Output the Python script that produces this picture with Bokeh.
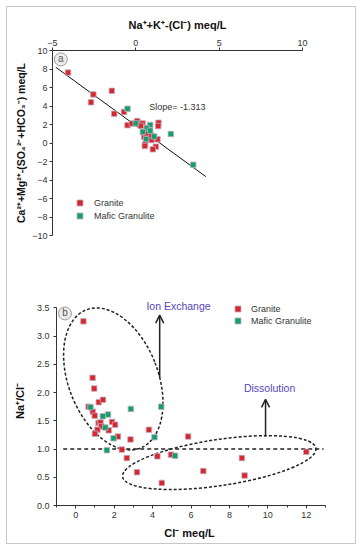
from bokeh.plotting import figure
from bokeh.layouts import column, row
from bokeh.models import (Range1d, FixedTicker, SingleIntervalTicker, PrintfTickFormatter,
                          Label, Arrow, OpenHead, Legend, LegendItem)
from bokeh.core.properties import value
from bokeh.embed import file_html
from bokeh.resources import INLINE

# ---------------- data: panel a ----------------
granite_a_x = [-4.07, -2.55, -2.69, -1.44, -1.30, -0.71, -0.50, -0.24, 0.08, 0.40, 0.30,
               0.66, 1.36, 1.34, 0.50, 0.94, 1.30, 0.56, 0.54, 1.20, 1.02, 0.90, 0.62]
granite_a_y = [7.61, 5.25, 4.40, 5.64, 3.15, 3.36, 1.93, 2.10, 2.37, 2.12, 1.87,
               1.65, 2.19, 1.83, 0.68, 0.32, 0.40, -0.11, -0.32, -0.40, -0.68, 0.85, 1.05]
mafic_a_x = [-0.50, 0.00, 0.86, 0.66, 0.86, 0.42, 1.10, 0.62, 2.10, 3.44]
mafic_a_y = [3.70, 2.12, 1.95, 1.58, 1.33, 1.20, 0.70, 0.42, 0.97, -2.36]
fit_x = [-4.8, 4.2]
fit_slope = -1.313
fit_intercept = 1.88
a_x_ticks = [-5, 0, 5, 10]
a_y_ticks = [-10, -8, -6, -4, -2, 0, 2, 4, 6, 8, 10]

# ---------------- data: panel b ----------------
granite_b_x = [0.40, 0.88, 0.96, 0.67, 1.20, 1.42, 0.89, 0.99, 1.19, 1.29, 1.33, 1.13, 1.00,
               1.72, 1.89, 2.05, 2.20, 2.85, 2.40, 2.66, 3.19, 3.81, 4.25, 4.48, 4.96,
               5.85, 6.64, 8.65, 8.79, 12.00]
granite_b_y = [3.26, 2.26, 2.07, 1.75, 1.83, 1.87, 1.66, 1.59, 1.46, 1.47, 1.40, 1.34, 1.27,
               1.33, 1.48, 1.43, 1.22, 1.17, 0.99, 0.84, 0.59, 1.34, 0.87, 0.40, 0.90,
               1.22, 0.61, 0.84, 0.53, 0.95]
mafic_b_x = [0.77, 1.68, 1.41, 1.54, 1.97, 2.87, 4.45, 4.10, 1.62, 5.17]
mafic_b_y = [1.74, 1.61, 1.58, 1.38, 1.19, 1.71, 1.75, 1.21, 0.98, 0.88]

RED = "#d7262c"
GREEN = "#10a06c"
EDGE = "#c0aec0"
FONT = "Liberation Sans"
INK = "#222222"
PURPLE = "#5646b8"


def style_axis(ax):
    ax.axis_line_color = "#333333"
    ax.major_tick_line_color = "#333333"
    ax.minor_tick_line_color = "#333333"
    ax.major_tick_out = 3
    ax.major_tick_in = 0
    ax.minor_tick_out = 2
    ax.minor_tick_in = 0
    ax.major_label_text_font = FONT
    ax.major_label_text_font_size = "9px"
    ax.major_label_text_color = "#333333"
    ax.axis_label_text_font = FONT
    ax.axis_label_text_font_size = "11px"
    ax.axis_label_text_font_style = "bold"
    ax.axis_label_text_color = "#111111"


def one_item_legend(label, renderer, loc, standoff):
    lg = Legend(items=[LegendItem(label=label, renderers=[renderer])], location=loc)
    lg.background_fill_alpha = 0
    lg.border_line_color = None
    lg.padding = 0
    lg.margin = 0
    lg.glyph_width = 15
    lg.glyph_height = 15
    lg.label_height = 12
    lg.label_standoff = standoff
    lg.label_text_font = FONT
    lg.label_text_font_size = "9px"
    lg.label_text_color = "#333333"
    return lg


def clear_fills(p):
    p.grid.visible = False
    p.outline_line_color = None
    p.border_fill_alpha = 0
    p.background_fill_alpha = 0


W = 362
HA = 272
HB = 278

# ================= panel a =================
pa = figure(width=W, height=HA, output_backend="svg", toolbar_location=None,
            x_axis_location="above", x_range=Range1d(-5, 10), y_range=Range1d(-10, 10),
            min_border_left=52, min_border_right=60, min_border_top=50, min_border_bottom=37)
clear_fills(pa)
for ax in pa.xaxis + pa.yaxis:
    style_axis(ax)
pa.xaxis.ticker = FixedTicker(ticks=a_x_ticks, minor_ticks=[])
pa.yaxis.ticker = FixedTicker(ticks=a_y_ticks, minor_ticks=[])
pa.xaxis.axis_label = "Na\u207a+K\u207a-(Cl\u207b) meq/L"
pa.yaxis.axis_label = "Ca\u00b2\u207a+Mg\u00b2\u207a-(SO\u2084\u00b2\u207b+HCO\u2083\u207b) meq/L"
pa.yaxis.axis_label_text_font_size = "10.5px"
pa.xaxis.major_label_standoff = 2
pa.xaxis.axis_label_standoff = 6
pa.yaxis.major_label_standoff = 2
pa.yaxis.axis_label_standoff = 2

fit_y = [fit_slope * v + fit_intercept for v in fit_x]
pa.line(fit_x, fit_y, line_color="#111111", line_width=1)
ga = pa.scatter(granite_a_x, granite_a_y, marker="square", size=5.5, fill_color=RED,
                line_color=EDGE, line_width=0.8)
ma = pa.scatter(mafic_a_x, mafic_a_y, marker="square", size=5.5, fill_color=GREEN,
                line_color=EDGE, line_width=0.8)
pa.add_layout(Label(x=0.80, y=3.88, text="Slope= -1.313", text_font=FONT, text_font_size="9px",
                    text_color="#333333", text_baseline="middle"))
pa.scatter([-4.5], [9.04], marker="circle", size=13, fill_color="#ececec", line_color="#9a9a9a",
           line_width=1)
pa.text([-4.5], [9.1], text=["a"], text_align="center", text_baseline="middle",
        text_font=value(FONT), text_font_size="10px", text_color="#555555")
pa.add_layout(one_item_legend("Granite", ga, (20, 25), 7))
pa.add_layout(one_item_legend("Mafic Granulite", ma, (20, 12), 7))

# ================= panel b =================
pb = figure(width=W, height=HB, output_backend="svg", toolbar_location=None,
            x_range=Range1d(-1, 13), y_range=Range1d(0, 3.7),
            min_border_left=56, min_border_right=37, min_border_top=24, min_border_bottom=45)
clear_fills(pb)
for ax in pb.xaxis + pb.yaxis:
    style_axis(ax)
pb.xaxis.ticker = SingleIntervalTicker(interval=2, num_minor_ticks=2)
pb.yaxis.ticker = SingleIntervalTicker(interval=0.5, num_minor_ticks=0)
pb.yaxis.formatter = PrintfTickFormatter(format="%.1f")
pb.yaxis.bounds = (0, 3.5)
pb.xaxis.axis_label = "Cl\u207b  meq/L"
pb.yaxis.axis_label = "Na\u207a/Cl\u207b"
pb.xaxis.major_label_standoff = 3
pb.xaxis.axis_label_standoff = 6
pb.yaxis.major_label_standoff = 4
pb.yaxis.axis_label_standoff = 8

# reference line Na/Cl = 1
pb.line([-0.65, 12.9], [1.0, 1.0], line_color=INK, line_width=1.5, line_dash="4 3")
# ellipses
pb.ellipse(x=[1.955], y=[2.24], width=89.6, height=148.4, angle=0.372,
           width_units="screen", height_units="screen", fill_color=None,
           line_color=INK, line_width=1.5, line_dash="3 2")
pb.ellipse(x=[7.47], y=[0.76], width=195.4, height=46.2, angle=0.147,
           width_units="screen", height_units="screen", fill_color=None,
           line_color=INK, line_width=1.5, line_dash="3 2")

gb = pb.scatter(granite_b_x, granite_b_y, marker="square", size=5.5, fill_color=RED,
                line_color=EDGE, line_width=0.8)
mb = pb.scatter(mafic_b_x, mafic_b_y, marker="square", size=5.5, fill_color=GREEN,
                line_color=EDGE, line_width=0.8)

pb.add_layout(Arrow(end=OpenHead(size=8, line_width=1.5, line_color=INK),
                    x_start=4.37, y_start=2.27, x_end=4.37, y_end=3.37,
                    line_width=1.5, line_color=INK))
pb.add_layout(Arrow(end=OpenHead(size=8, line_width=1.5, line_color=INK),
                    x_start=9.88, y_start=1.22, x_end=9.88, y_end=1.88,
                    line_width=1.5, line_color=INK))
pb.add_layout(Label(x=5.35, y=3.53, text="Ion Exchange", text_align="center",
                    text_baseline="middle", text_font=FONT, text_font_size="10.5px",
                    text_color=PURPLE))
pb.add_layout(Label(x=10.09, y=2.08, text="Dissolution", text_align="center",
                    text_baseline="middle", text_font=FONT, text_font_size="10.5px",
                    text_color=PURPLE))
pb.scatter([-0.56], [3.40], marker="circle", size=13, fill_color="#ececec", line_color="#9a9a9a",
           line_width=1)
pb.text([-0.56], [3.41], text=["b"], text_align="center", text_baseline="middle",
        text_font=value(FONT), text_font_size="10px", text_color="#555555")
pb.add_layout(one_item_legend("Granite", gb, (174, 189), 6))
pb.add_layout(one_item_legend("Mafic Granulite", mb, (174, 177), 6))

layout = column(row(pa), row(pb),
                styles={"background-color": "#ffffff",
                        "box-shadow": "inset 0 0 0 6px #ffffff, inset 0 0 0 7px #c8c8c8"})

open("out.html", "w").write(file_html(layout, INLINE))
